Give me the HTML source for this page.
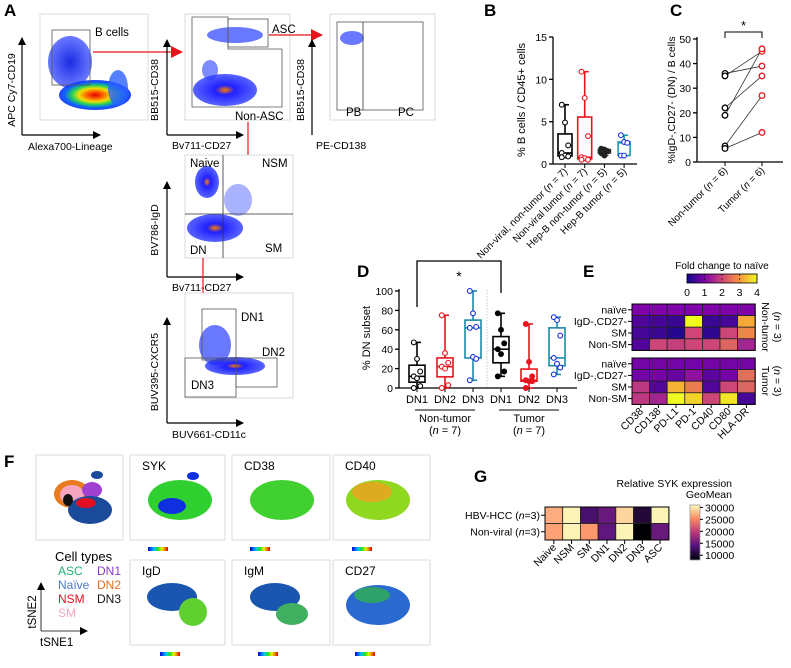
<!DOCTYPE html>
<html><head><meta charset="utf-8">
<style>
html,body{margin:0;padding:0;background:#fff;}
svg{display:block;font-family:"Liberation Sans",sans-serif;}
</style></head>
<body>
<svg id="fig" width="791" height="668" viewBox="0 0 791 668" xmlns="http://www.w3.org/2000/svg">
<defs>
<radialGradient id="gHot" cx="50%" cy="50%" r="50%">
<stop offset="0" stop-color="#e00000"/><stop offset="0.25" stop-color="#ff6a00"/><stop offset="0.45" stop-color="#f0e000"/><stop offset="0.65" stop-color="#20d060"/><stop offset="0.85" stop-color="#1060ff"/><stop offset="1" stop-color="#1030ff" stop-opacity="0.9"/></radialGradient>
<radialGradient id="gBlue" cx="50%" cy="50%" r="50%">
<stop offset="0" stop-color="#ff7a00"/><stop offset="0.3" stop-color="#2020ff"/><stop offset="1" stop-color="#2030ff" stop-opacity="0.75"/></radialGradient>
<radialGradient id="gB2" cx="50%" cy="50%" r="50%">
<stop offset="0" stop-color="#1a2ae0"/><stop offset="1" stop-color="#2a40ff" stop-opacity="0.7"/></radialGradient>
<linearGradient id="jet" x1="0" x2="1"><stop offset="0" stop-color="#0000d0"/><stop offset="0.3" stop-color="#00c0ff"/><stop offset="0.5" stop-color="#20e020"/><stop offset="0.7" stop-color="#f0f000"/><stop offset="1" stop-color="#e00000"/></linearGradient>
<linearGradient id="plasma" x1="0" x2="1"><stop offset="0" stop-color="#0d0887"/><stop offset="0.25" stop-color="#7e03a8"/><stop offset="0.5" stop-color="#cc4778"/><stop offset="0.75" stop-color="#f89540"/><stop offset="1" stop-color="#f0f921"/></linearGradient>
<linearGradient id="magma" x1="0" x2="0" y1="1" y2="0"><stop offset="0" stop-color="#000004"/><stop offset="0.25" stop-color="#51127c"/><stop offset="0.5" stop-color="#b73779"/><stop offset="0.75" stop-color="#fc8961"/><stop offset="1" stop-color="#fcfdbf"/></linearGradient>
<marker id="ahB" markerWidth="8" markerHeight="8" refX="7" refY="4" orient="auto" markerUnits="userSpaceOnUse"><path d="M0,0 L8,4 L0,8 z" fill="#000"/></marker>
<marker id="ahR" markerWidth="12" markerHeight="12" refX="11" refY="6" orient="auto" markerUnits="userSpaceOnUse"><path d="M0,0 L12,6 L0,12 z" fill="#e8141c"/></marker>
</defs>

<!-- ===== Panel A ===== -->
<g>
<text x="4" y="16" font-size="17" font-weight="bold">A</text>
<g>
<rect x="40" y="14" width="108" height="106" fill="#fff" stroke="#ccc" stroke-width="0.7"/>
<ellipse cx="70" cy="62" rx="22" ry="26" fill="url(#gB2)"/>
<ellipse cx="95" cy="95" rx="36" ry="15" fill="url(#gHot)"/>
<ellipse cx="118" cy="88" rx="10" ry="18" fill="#2a60ff" opacity="0.8"/>
<rect x="52" y="30" width="38" height="55" fill="none" stroke="#555" stroke-width="0.8"/>
<text x="95" y="36" font-size="11.5">B cells</text>
<line x1="22" y1="135" x2="22" y2="38" stroke="#000" stroke-width="1.2" marker-end="url(#ahB)"/>
<line x1="22" y1="135" x2="100" y2="135" stroke="#000" stroke-width="1.2" marker-end="url(#ahB)"/>
<text transform="translate(15,90) rotate(-90)" text-anchor="middle" font-size="10.5">APC Cy7-CD19</text>
<text x="28" y="150" font-size="10.5">Alexa700-Lineage</text>
</g>
<line x1="93" y1="52" x2="182" y2="52" stroke="#e8141c" stroke-width="1.2" marker-end="url(#ahR)"/>
<g>
<rect x="185" y="14" width="105" height="106" fill="#fff" stroke="#ccc" stroke-width="0.7"/>
<ellipse cx="235" cy="35" rx="28" ry="8" fill="#2a40ff" opacity="0.7"/>
<ellipse cx="225" cy="90" rx="32" ry="16" fill="url(#gBlue)"/>
<ellipse cx="210" cy="70" rx="8" ry="10" fill="#2a40ff" opacity="0.6"/>
<path d="M192,17 L228,17 L228,49 L282,49 L282,107 L192,107 Z" fill="none" stroke="#555" stroke-width="0.8"/>
<rect x="228" y="19" width="40" height="28" fill="none" stroke="#555" stroke-width="0.8"/>
<text x="272" y="33" font-size="11.5">ASC</text>
<text x="235" y="120" font-size="11.5">Non-ASC</text>
<line x1="167" y1="135" x2="167" y2="40" stroke="#000" stroke-width="1.2" marker-end="url(#ahB)"/>
<line x1="167" y1="135" x2="243" y2="135" stroke="#000" stroke-width="1.2" marker-end="url(#ahB)"/>
<text transform="translate(158,90) rotate(-90)" text-anchor="middle" font-size="10.5">BB515-CD38</text>
<text x="172" y="149" font-size="10.5">Bv711-CD27</text>
</g>
<line x1="269" y1="35" x2="322" y2="35" stroke="#e8141c" stroke-width="1.2" marker-end="url(#ahR)"/>
<g>
<rect x="330" y="14" width="105" height="106" fill="#fff" stroke="#ccc" stroke-width="0.7"/>
<ellipse cx="352" cy="38" rx="12" ry="7" fill="#2a40ff" opacity="0.7"/>
<rect x="337" y="22" width="26" height="88" fill="none" stroke="#555" stroke-width="0.8"/>
<rect x="363" y="22" width="60" height="88" fill="none" stroke="#555" stroke-width="0.8"/>
<text x="346" y="116" font-size="11.5">PB</text>
<text x="398" y="116" font-size="11.5">PC</text>
<line x1="312" y1="135" x2="312" y2="40" stroke="#000" stroke-width="1.2" marker-end="url(#ahB)"/>
<text transform="translate(304,90) rotate(-90)" text-anchor="middle" font-size="10.5">BB515-CD38</text>
<text x="316" y="149" font-size="10.5">PE-CD138</text>
</g>
<line x1="248" y1="122" x2="248" y2="170" stroke="#e8141c" stroke-width="1.2" marker-end="url(#ahR)"/>
<g>
<rect x="185" y="155" width="108" height="103" fill="#fff" stroke="#ccc" stroke-width="0.7"/>
<ellipse cx="207" cy="182" rx="12" ry="16" fill="url(#gBlue)"/>
<ellipse cx="215" cy="228" rx="28" ry="14" fill="url(#gBlue)"/>
<ellipse cx="238" cy="200" rx="14" ry="16" fill="#2a40ff" opacity="0.4"/>
<line x1="223" y1="155" x2="223" y2="258" stroke="#333" stroke-width="0.8"/>
<line x1="185" y1="214" x2="293" y2="214" stroke="#333" stroke-width="0.8"/>
<text x="190" y="167" font-size="11.5">Naive</text>
<text x="262" y="167" font-size="11.5">NSM</text>
<text x="190" y="254" font-size="11.5">DN</text>
<text x="265" y="252" font-size="11.5">SM</text>
<line x1="167" y1="277" x2="167" y2="182" stroke="#000" stroke-width="1.2" marker-end="url(#ahB)"/>
<line x1="167" y1="277" x2="243" y2="277" stroke="#000" stroke-width="1.2" marker-end="url(#ahB)"/>
<text transform="translate(158,230) rotate(-90)" text-anchor="middle" font-size="10.5">BV786-IgD</text>
<text x="172" y="291" font-size="10.5">Bv711-CD27</text>
</g>
<line x1="203" y1="258" x2="203" y2="308" stroke="#e8141c" stroke-width="1.2" marker-end="url(#ahR)"/>
<g>
<rect x="185" y="293" width="108" height="105" fill="#fff" stroke="#ccc" stroke-width="0.7"/>
<ellipse cx="215" cy="345" rx="16" ry="20" fill="#2a40ff" opacity="0.7"/>
<ellipse cx="235" cy="366" rx="30" ry="9" fill="url(#gBlue)"/>
<rect x="202" y="309" width="34" height="51" fill="none" stroke="#555" stroke-width="0.8"/>
<rect x="236" y="358" width="41" height="29" fill="none" stroke="#555" stroke-width="0.8"/>
<rect x="185" y="358" width="51" height="39" fill="none" stroke="#555" stroke-width="0.8"/>
<text x="241" y="321" font-size="11.5">DN1</text>
<text x="262" y="356" font-size="11.5">DN2</text>
<text x="191" y="389" font-size="11.5">DN3</text>
<line x1="167" y1="423" x2="167" y2="318" stroke="#000" stroke-width="1.2" marker-end="url(#ahB)"/>
<line x1="167" y1="423" x2="243" y2="423" stroke="#000" stroke-width="1.2" marker-end="url(#ahB)"/>
<text transform="translate(158,372) rotate(-90)" text-anchor="middle" font-size="10.5">BUV395-CXCR5</text>
<text x="172" y="438" font-size="10.5">BUV661-CD11c</text>
</g>
</g>

<text x="484" y="16" font-size="17" font-weight="bold">B</text>
<text x="670" y="16" font-size="17" font-weight="bold">C</text>
<text x="357" y="277" font-size="17" font-weight="bold">D</text>
<text x="583" y="277" font-size="17" font-weight="bold">E</text>
<text x="4" y="467" font-size="17" font-weight="bold">F</text>
<text x="474" y="482" font-size="17" font-weight="bold">G</text>

<!-- ===== Panel F ===== -->
<g>
<g>
<rect x="36" y="455" width="87" height="85" fill="#fff" stroke="#ccc" stroke-width="0.7"/>
<ellipse cx="72" cy="494" rx="18" ry="14" fill="#e87a20"/>
<ellipse cx="72" cy="495" rx="12" ry="10" fill="#f4a6c0"/>
<ellipse cx="92" cy="490" rx="10" ry="8" fill="#a040d0"/>
<ellipse cx="90" cy="510" rx="22" ry="14" fill="#1a4a9a"/>
<ellipse cx="86" cy="503" rx="10" ry="5" fill="#e01020"/>
<ellipse cx="97" cy="475" rx="6" ry="4" fill="#1a4a9a"/>
<ellipse cx="68" cy="500" rx="5" ry="6" fill="#111"/>
</g>
<g>
<rect x="130" y="455" width="95" height="85" fill="#fff" stroke="#ccc" stroke-width="0.7"/>
<ellipse cx="180" cy="500" rx="32" ry="20" fill="#30d030"/>
<ellipse cx="172" cy="506" rx="14" ry="8" fill="#1030e0"/>
<ellipse cx="193" cy="476" rx="6" ry="4" fill="#1030e0"/>
<text x="142" y="470" font-size="12">SYK</text>
<rect x="148" y="547" width="20" height="4" fill="url(#jet)"/>
</g>
<g>
<rect x="232" y="455" width="98" height="85" fill="#fff" stroke="#ccc" stroke-width="0.7"/>
<ellipse cx="282" cy="500" rx="32" ry="20" fill="#40d030"/>
<text x="244" y="470" font-size="12">CD38</text>
<rect x="250" y="547" width="20" height="4" fill="url(#jet)"/>
</g>
<g>
<rect x="333" y="455" width="97" height="85" fill="#fff" stroke="#ccc" stroke-width="0.7"/>
<ellipse cx="378" cy="500" rx="32" ry="20" fill="#90d820"/>
<ellipse cx="372" cy="492" rx="20" ry="10" fill="#f0a020" opacity="0.8"/>
<text x="345" y="470" font-size="12">CD40</text>
<rect x="352" y="547" width="20" height="4" fill="url(#jet)"/>
</g>
<g>
<rect x="130" y="560" width="95" height="85" fill="#fff" stroke="#ccc" stroke-width="0.7"/>
<ellipse cx="172" cy="597" rx="25" ry="14" fill="#1a55b0"/>
<ellipse cx="193" cy="612" rx="14" ry="14" fill="#60d030"/>
<text x="142" y="575" font-size="12">IgD</text>
<rect x="160" y="652" width="20" height="4" fill="url(#jet)"/>
</g>
<g>
<rect x="232" y="560" width="98" height="85" fill="#fff" stroke="#ccc" stroke-width="0.7"/>
<ellipse cx="275" cy="597" rx="25" ry="14" fill="#1a55b0"/>
<ellipse cx="292" cy="614" rx="16" ry="11" fill="#40b060"/>
<text x="244" y="575" font-size="12">IgM</text>
<rect x="258" y="652" width="20" height="4" fill="url(#jet)"/>
</g>
<g>
<rect x="333" y="560" width="97" height="85" fill="#fff" stroke="#ccc" stroke-width="0.7"/>
<ellipse cx="378" cy="605" rx="32" ry="20" fill="#2a6ad0"/>
<ellipse cx="372" cy="595" rx="18" ry="8" fill="#30b050" opacity="0.8"/>
<text x="345" y="575" font-size="12">CD27</text>
<rect x="355" y="652" width="20" height="4" fill="url(#jet)"/>
</g>
<g font-size="12">
<text x="55" y="561" font-size="13">Cell types</text>
<text x="58" y="575" fill="#22b070">ASC</text><text x="97" y="575" fill="#8a3ac8">DN1</text>
<text x="58" y="589" fill="#4a7ac8">Naïve</text><text x="97" y="589" fill="#e07020">DN2</text>
<text x="58" y="603" fill="#e01020">NSM</text><text x="97" y="603" fill="#111">DN3</text>
<text x="58" y="617" fill="#f4a6c0">SM</text>
</g>
<line x1="41" y1="631" x2="41" y2="583" stroke="#000" stroke-width="0.8" marker-end="url(#ahB)"/>
<line x1="41" y1="631" x2="87" y2="631" stroke="#000" stroke-width="0.8" marker-end="url(#ahB)"/>
<text transform="translate(36,612) rotate(-90)" text-anchor="middle" font-size="11.5">tSNE2</text>
<text x="40" y="646" font-size="11.5">tSNE1</text>
</g>

<g id="charts"></g>
</svg>

<script>
// ---------- data ----------
const bCategories = ["Non-viral, non-tumor", "Non-viral tumor", "Hep-B non-tumor", "Hep-B tumor"];
const bNs = [7, 7, 5, 5];
const bNonviralNonTumor = [7.0, 4.9, 2.2, 1.3, 1.0, 0.9, 0.8];
const bNonviralTumor = [10.9, 7.8, 3.3, 0.8, 0.7, 0.5, 0.5];
const bHepBNonTumor = [1.8, 1.7, 1.5, 1.3, 1.0];
const bHepBTumor = [3.4, 2.6, 2.5, 1.0, 1.0];
const bTicks = [0, 5, 10, 15];

const cCategories = ["Non-tumor", "Tumor"];
const cNonTumor = [36, 35, 22, 19, 6.5, 5.5];
const cTumor = [39, 45, 35, 46, 27, 12];
const cTicks = [0, 10, 20, 30, 40, 50];

const dCategories = ["DN1", "DN2", "DN3", "DN1", "DN2", "DN3"];
const dNonTumorDN1 = [47, 30, 17, 12, 10, 2, 0];
const dNonTumorDN2 = [75, 36, 26, 22, 20, 3, 0];
const dNonTumorDN3 = [100, 77, 63, 62, 32, 30, 8];
const dTumorDN1 = [77, 60, 46, 40, 35, 17, 12];
const dTumorDN2 = [66, 27, 12, 8, 7, 7, 0];
const dTumorDN3 = [73, 70, 54, 31, 25, 21, 14];
const dTicks = [0, 20, 40, 60, 80, 100];

const eColumns = ["CD38", "CD138", "PD-L1", "PD-1", "CD40", "CD80", "HLA-DR"];
const eRows = ["naïve", "IgD-,CD27-", "SM", "Non-SM"];
const eNonTumor = [
  [1.0, 1.0, 1.0, 1.0, 1.0, 1.0, 1.0],
  [0.6, 0.5, 0.4, 4.0, 0.4, 0.5, 3.2],
  [0.5, 0.4, 0.2, 2.0, 0.3, 2.0, 2.8],
  [0.6, 2.0, 1.9, 2.0, 2.0, 2.4, 1.5]];
const eTumor = [
  [0.9, 0.9, 0.9, 0.9, 0.9, 0.9, 0.9],
  [0.9, 0.9, 0.8, 1.2, 0.7, 0.9, 2.5],
  [1.8, 0.6, 3.3, 2.7, 0.6, 2.0, 2.4],
  [1.8, 1.5, 4.0, 3.6, 2.0, 3.8, 0.5]];
const eTicks = [0, 1, 2, 3, 4];

const gColumns = ["Naive", "NSM", "SM", "DN1", "DN2", "DN3", "ASC"];
const gRows = ["HBV-HCC (n=3)", "Non-viral (n=3)"];
const gHBV = [27000, 30500, 13000, 15000, 29000, 10500, 30500];
const gNonViral = [26500, 30500, 26000, 14500, 30500, 8000, 15000];
const gTicks = [30000, 25000, 20000, 15000, 10000];

// ---------- helpers ----------
const NS = "http://www.w3.org/2000/svg";
const root = document.getElementById("charts");
function mk(tag, attrs, parent) {
  const e = document.createElementNS(NS, tag);
  for (const k in attrs) e.setAttribute(k, attrs[k]);
  (parent || root).appendChild(e);
  return e;
}
function txt(s, attrs, parent) { const t = mk("text", attrs, parent); t.textContent = s; return t; }
function quant(arr, p) {
  const s = arr.slice().sort((a, b) => a - b);
  const pos = (s.length - 1) * p, lo = Math.floor(pos), hi = Math.ceil(pos);
  return s[lo] + (s[hi] - s[lo]) * (pos - lo);
}
function lerpColor(stops, t) {
  t = Math.max(0, Math.min(1, t));
  const n = stops.length - 1, i = Math.min(n - 1, Math.floor(t * n)), f = t * n - i;
  const a = stops[i], b = stops[i + 1];
  const h = x => parseInt(x, 16);
  const c = [0, 1, 2].map(k => Math.round(h(a.substr(1 + 2 * k, 2)) * (1 - f) + h(b.substr(1 + 2 * k, 2)) * f));
  return "rgb(" + c.join(",") + ")";
}
const PLASMA = ["#0d0887", "#7e03a8", "#cc4778", "#f89540", "#f0f921"];
const MAGMA = ["#000004", "#51127c", "#b73779", "#fc8961", "#fcfdbf"];

function boxPlot(g, cx, vals, yS, color, ptColor, fillPts, w, name) {
  const q1 = quant(vals, 0.25), md = quant(vals, 0.5), q3 = quant(vals, 0.75);
  const mn = Math.min(...vals), mx = Math.max(...vals);
  const grp = mk("g", {}, g);
  
  
  const wl = mk("line", { x1: cx, x2: cx, y1: yS(mn), y2: yS(mx), stroke: color, "stroke-width": 1.6 }, grp);
  
  
  mk("line", { x1: cx - 4, x2: cx + 4, y1: yS(mx), y2: yS(mx), stroke: color, "stroke-width": 1.6 }, grp);
  mk("line", { x1: cx - 4, x2: cx + 4, y1: yS(mn), y2: yS(mn), stroke: color, "stroke-width": 1.6 }, grp);
  const bx = mk("rect", { x: cx - w / 2, y: yS(q3), width: w, height: Math.max(0.5, yS(q1) - yS(q3)), fill: "#fff", stroke: color, "stroke-width": 1.6 }, grp);
  
  
  mk("line", { x1: cx - w / 2, x2: cx + w / 2, y1: yS(md), y2: yS(md), stroke: color, "stroke-width": 1.6 }, grp);
  vals.forEach((v, i) => {
    const off = ((i % 3) - 1) * 3.2;
    const p = mk("circle", { cx: cx + off, cy: yS(v), r: 2.4, fill: fillPts ? ptColor : "#fff", stroke: ptColor, "stroke-width": 1.1 }, grp);
    
    
  });
}
function yAxis(g, x, ticks, yS, y0, y1) {
  mk("line", { x1: x, x2: x, y1: y0, y2: y1, stroke: "#000", "stroke-width": 1.3 }, g);
  ticks.forEach(t => {
    mk("line", { x1: x - 4, x2: x, y1: yS(t), y2: yS(t), stroke: "#000", "stroke-width": 1.3 }, g);
    const tl = txt(String(t), { x: x - 6, y: yS(t) + 4, "text-anchor": "end", "font-size": 10.5 }, g);
    
    
  });
}
function nLabel(parent, attrs, pre, n) {
  const l = txt("", attrs, parent);
  l.appendChild(document.createTextNode(pre + " ("));
  const s = document.createElementNS(NS, "tspan"); s.setAttribute("font-style", "italic"); s.textContent = "n"; l.appendChild(s);
  l.appendChild(document.createTextNode(" = " + n + ")"));
  return l;
}

// ---------- Panel B ----------
const gB = mk("g", {});


const yB = v => 164 - v / 15 * 127;
const xB = i => 565 + i * 19.7;
yAxis(gB, 553, bTicks, yB, 164, 37);
mk("line", { x1: 553, x2: 637, y1: 164, y2: 164, stroke: "#000", "stroke-width": 1.3 }, gB);
const bSeries = [bNonviralNonTumor, bNonviralTumor, bHepBNonTumor, bHepBTumor];
const bColors = ["#000", "#e8141c", "#333", "#1a9ab0"];
const bPtCol = ["#000", "#e8141c", "#222", "#1a30e0"];
bSeries.forEach((s, i) => {
  boxPlot(gB, xB(i), s, yB, bColors[i], bPtCol[i], i === 2, i < 2 ? 14 : 12, "b-box-" + (i + 1));
  mk("line", { x1: xB(i), x2: xB(i), y1: 164, y2: 168, stroke: "#000" }, gB);
  const l = nLabel(gB, { transform: "translate(" + (xB(i) + 3) + ",172) rotate(-45)", "text-anchor": "end", "font-size": 10 }, bCategories[i], bNs[i]);
  
  
});
const yb = txt("% B cells / CD45+ cells", { transform: "translate(525,100) rotate(-90)", "text-anchor": "middle", "font-size": 11 }, gB);



// ---------- Panel C ----------
const gC = mk("g", {});


const yC = v => 162 - v / 50 * 123;
const xC = i => 725 + i * 37;
yAxis(gC, 697, cTicks, yC, 162, 37);
mk("line", { x1: 697, x2: 783, y1: 162, y2: 162, stroke: "#000", "stroke-width": 1.3 }, gC);
cNonTumor.forEach((v, i) => {
  const ln = mk("line", { x1: xC(0), y1: yC(v), x2: xC(1), y2: yC(cTumor[i]), stroke: "#333", "stroke-width": 0.8 }, gC);
  
  
});
cNonTumor.forEach(v => {
  const p = mk("circle", { cx: xC(0), cy: yC(v), r: 2.8, fill: "#fff", stroke: "#000", "stroke-width": 1.3 }, gC);
  
  
});
cTumor.forEach(v => {
  const p = mk("circle", { cx: xC(1), cy: yC(v), r: 2.8, fill: "#fff", stroke: "#e8141c", "stroke-width": 1.3 }, gC);
  
  
});
mk("path", { d: "M" + xC(0) + ",38 V32 H" + xC(1) + " V38", fill: "none", stroke: "#000", "stroke-width": 1 }, gC);
txt("*", { x: (xC(0) + xC(1)) / 2, y: 30, "text-anchor": "middle", "font-size": 13 }, gC);
[6, 6].forEach((n, i) => {
  mk("line", { x1: xC(i), x2: xC(i), y1: 162, y2: 166, stroke: "#000" }, gC);
  const l = nLabel(gC, { transform: "translate(" + (xC(i) + 3) + ",171) rotate(-45)", "text-anchor": "end", "font-size": 10 }, cCategories[i], n);
  
  
});
const yc = txt("%IgD-,CD27- (DN) /  B cells", { transform: "translate(675,100) rotate(-90)", "text-anchor": "middle", "font-size": 10.5 }, gC);



// ---------- Panel D ----------
const gD = mk("g", {});


const yD = v => 388 - v * 0.97;
const xD = i => 417 + i * 28;
yAxis(gD, 399, dTicks, yD, 388, 289);
mk("line", { x1: 399, x2: 577, y1: 388, y2: 388, stroke: "#000", "stroke-width": 1.3 }, gD);
mk("line", { x1: 487, x2: 487, y1: 290, y2: 388, stroke: "#bbb", "stroke-width": 0.8, "stroke-dasharray": "1.5,1.5" }, gD);
const dSeries = [dNonTumorDN1, dNonTumorDN2, dNonTumorDN3, dTumorDN1, dTumorDN2, dTumorDN3];
const dColors = ["#000", "#e8141c", "#1a8aa8", "#000", "#e8141c", "#1a8aa8"];
const dPtCol = ["#000", "#e8141c", "#1a30e0", "#000", "#e8141c", "#1a30e0"];
dSeries.forEach((s, i) => {
  boxPlot(gD, xD(i), s, yD, dColors[i], dPtCol[i], i >= 3 && i !== 5, 16, "d-box-" + (i + 1));
  mk("line", { x1: xD(i), x2: xD(i), y1: 388, y2: 392, stroke: "#000" }, gD);
  const l = txt(dCategories[i], { x: xD(i), y: 403, "text-anchor": "middle", "font-size": 11 }, gD);
  
  
});
mk("path", { d: "M" + xD(0) + ",307 V261 H" + xD(3) + " V293", fill: "none", stroke: "#000", "stroke-width": 1.3 }, gD);
txt("*", { x: (xD(0) + xD(3)) / 2, y: 281, "text-anchor": "middle", "font-size": 14 }, gD);
[[0, "Non-tumor"], [3, "Tumor"]].forEach(([s, name]) => {
  mk("line", { x1: xD(s) - 2, x2: xD(s + 2) + 2, y1: 410, y2: 410, stroke: "#000", "stroke-width": 1 }, gD);
  const t1 = txt(name, { x: xD(s + 1), y: 422, "text-anchor": "middle", "font-size": 11 }, gD);
  
  
  const t2 = txt("", { x: xD(s + 1), y: 434, "text-anchor": "middle", "font-size": 11 }, gD);
  t2.appendChild(document.createTextNode("("));
  const n = document.createElementNS(NS, "tspan"); n.setAttribute("font-style", "italic"); n.textContent = "n"; t2.appendChild(n);
  t2.appendChild(document.createTextNode(" = 7)"));
});
const yd = txt("% DN subset", { transform: "translate(370,338) rotate(-90)", "text-anchor": "middle", "font-size": 11 }, gD);



// ---------- Panel E ----------
const gE = mk("g", {});


const eX = j => 632 + j * 17.6, cwE = 17.6, chE = 11.6;
const eBlocks = [[eNonTumor, 304], [eTumor, 358]];
eBlocks.forEach(([mat, y0]) => {
  mat.forEach((row, r) => row.forEach((v, j) => {
    const c = mk("rect", { x: eX(j), y: y0 + r * chE, width: cwE, height: chE, fill: lerpColor(PLASMA, v / 4), stroke: "#222", "stroke-width": 0.8 }, gE);
    
    
  }));
  eRows.forEach((name, r) => {
    const l = txt(name, { x: 627, y: y0 + r * chE + chE / 2 + 3.6, "text-anchor": "end", "font-size": 10.5 }, gE);
    
    
    mk("line", { x1: 628, x2: 632, y1: y0 + r * chE + chE / 2, y2: y0 + r * chE + chE / 2, stroke: "#000" }, gE);
  });
  mk("rect", { x: 632, y: y0, width: cwE * 7, height: chE * 4, fill: "none", stroke: "#000", "stroke-width": 1 }, gE);
});
eColumns.forEach((name, j) => {
  mk("line", { x1: eX(j) + cwE / 2, x2: eX(j) + cwE / 2, y1: 404.4, y2: 408, stroke: "#000" }, gE);
  const l = txt(name, { transform: "translate(" + (eX(j) + cwE / 2 + 3) + ",412) rotate(-45)", "text-anchor": "end", "font-size": 10.5 }, gE);
  
  
});
const eLeg = mk("rect", { x: 687, y: 274, width: 70, height: 9, fill: "url(#plasma)", stroke: "#000", "stroke-width": 0.8 }, gE);


eTicks.forEach(t => {
  const x = 687 + t / 4 * 70;
  mk("line", { x1: x, x2: x, y1: 274, y2: 283, stroke: "#000", "stroke-width": 0.6, "stroke-dasharray": "2,2" }, gE);
  txt(String(t), { x: x, y: 296, "text-anchor": "middle", "font-size": 10.5 }, gE);
});
const et = txt("Fold change to naïve", { x: 722, y: 269, "text-anchor": "middle", "font-size": 10 }, gE);


[["Non-tumor", 327], ["Tumor", 381]].forEach(([name, cy]) => {
  txt(name, { transform: "translate(762," + cy + ") rotate(90)", "text-anchor": "middle", "font-size": 10.5 }, gE);
  const t2 = txt("", { transform: "translate(774," + cy + ") rotate(90)", "text-anchor": "middle", "font-size": 10.5 }, gE);
  t2.appendChild(document.createTextNode("("));
  const n = document.createElementNS(NS, "tspan"); n.setAttribute("font-style", "italic"); n.textContent = "n"; t2.appendChild(n);
  t2.appendChild(document.createTextNode(" = 3)"));
});

// ---------- Panel G ----------
const gG = mk("g", {});


const gMin = 8000, gMax = 31000;
const gX = j => 545 + j * 17.7, cwG = 17.7, chG = 16.5;
[gHBV, gNonViral].forEach((row, r) => {
  row.forEach((v, j) => {
    const c = mk("rect", { x: gX(j), y: 507 + r * chG, width: cwG, height: chG, fill: lerpColor(MAGMA, (v - gMin) / (gMax - gMin)), stroke: "#222", "stroke-width": 0.8 }, gG);
    
    
  });
  const yy = 507 + r * chG + chG / 2;
  mk("line", { x1: 541, x2: 545, y1: yy, y2: yy, stroke: "#000" }, gG);
  const parts = gRows[r].split("n=");
  const l = txt("", { x: 540, y: yy + 3.6, "text-anchor": "end", "font-size": 10.5 }, gG);
  
  
  l.appendChild(document.createTextNode(parts[0]));
  const n = document.createElementNS(NS, "tspan"); n.setAttribute("font-style", "italic"); n.textContent = "n"; l.appendChild(n);
  l.appendChild(document.createTextNode("=" + parts[1]));
});
mk("rect", { x: 545, y: 507, width: cwG * 7, height: chG * 2, fill: "none", stroke: "#000", "stroke-width": 1 }, gG);
gColumns.forEach((name, j) => {
  mk("line", { x1: gX(j) + cwG / 2, x2: gX(j) + cwG / 2, y1: 540, y2: 544, stroke: "#000" }, gG);
  const l = txt(name, { transform: "translate(" + (gX(j) + cwG / 2 + 3) + ",548) rotate(-45)", "text-anchor": "end", "font-size": 10.5 }, gG);
  
  
});
const gLeg = mk("rect", { x: 690, y: 505, width: 10, height: 55, fill: "url(#magma)", stroke: "#999", "stroke-width": 0.8 }, gG);


gTicks.forEach(t => {
  const y = 560 - (t - gMin) / (gMax - gMin) * 55;
  mk("line", { x1: 700, x2: 703, y1: y, y2: y, stroke: "#000" }, gG);
  txt(String(t), { x: 705, y: y + 4, "font-size": 10.5 }, gG);
});
const gt1 = txt("Relative SYK expression", { x: 732, y: 487, "text-anchor": "end", "font-size": 10.5 }, gG);


txt("GeoMean", { x: 732, y: 498, "text-anchor": "end", "font-size": 10.5 }, gG);
</script>
</body></html>
